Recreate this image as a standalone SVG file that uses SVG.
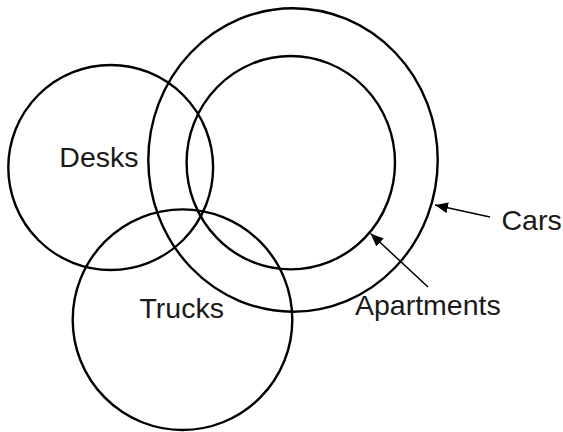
<svg xmlns="http://www.w3.org/2000/svg" width="563" height="432" viewBox="0 0 563 432">
<style>
.c{fill:none;stroke:#000;stroke-width:2.4}
.t{font-family:"Liberation Sans",Arial,sans-serif;font-size:28.5px;fill:#1a1a1a}
.a{stroke:#000;stroke-width:1.5;fill:none}
</style>
<defs>
<marker id="ah" viewBox="0 0 12 10" refX="12" refY="5" markerWidth="13" markerHeight="11" markerUnits="userSpaceOnUse" orient="auto">
<path d="M0,0 L12,5 L0,10 z" fill="#000"/>
</marker>
</defs>
<rect width="563" height="432" fill="#fff"/>
<g id="cars"><ellipse class="c" cx="293" cy="160" rx="144.7" ry="151.7"/><text class="t" x="501.5" y="230">Cars</text></g>
<g id="apartments"><ellipse class="c" cx="290.8" cy="162.7" rx="104.2" ry="106.7"/><text class="t" x="355" y="315">Apartments</text></g>
<g id="desks"><ellipse class="c" cx="110.7" cy="167.5" rx="102.4" ry="102.5"/><text class="t" x="59.3" y="167">Desks</text></g>
<g id="trucks"><ellipse class="c" cx="182.5" cy="319.7" rx="109.8" ry="110.3"/><text class="t" x="139.5" y="318">Trucks</text></g>
<g id="connectors">
<line class="a" x1="490" y1="217" x2="435" y2="205" marker-end="url(#ah)"/>
<line class="a" x1="428" y1="287" x2="370.5" y2="233.5" marker-end="url(#ah)"/>
</g>
</svg>
